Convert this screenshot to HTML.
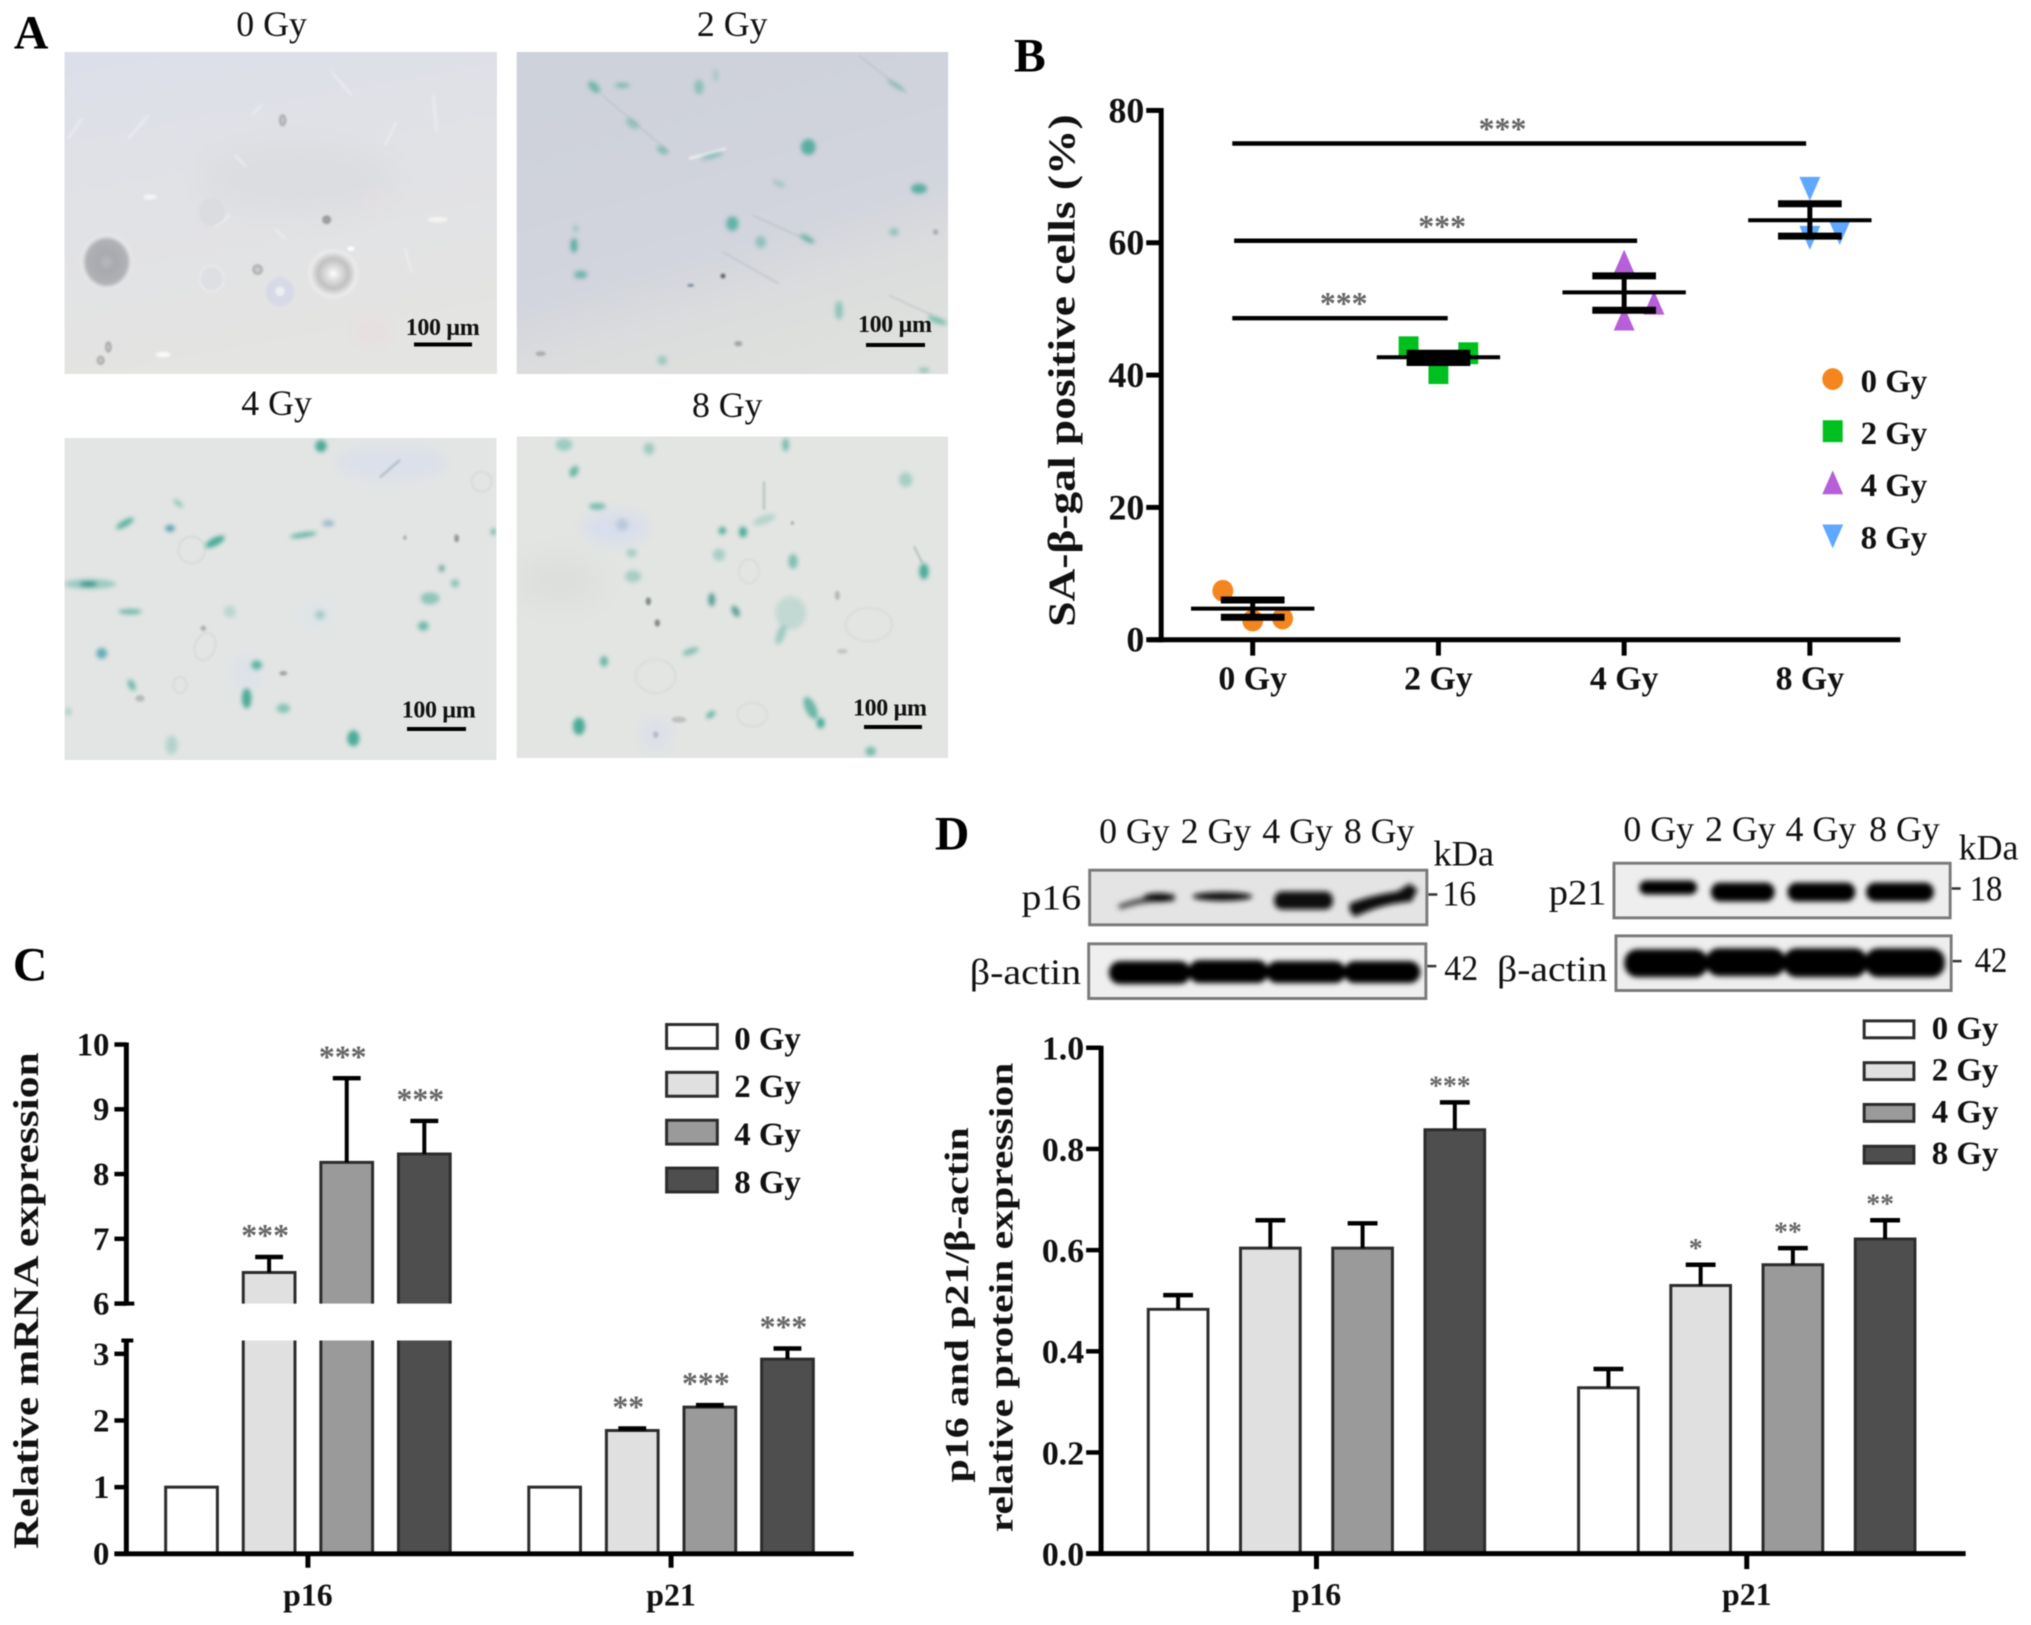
<!DOCTYPE html>
<html lang="en">
<head>
<meta charset="utf-8">
<title>Senescence figure panels A-D</title>
<style>
html,body{margin:0;padding:0;background:#fff;width:2031px;height:1625px;overflow:hidden}
svg#figure{display:block;filter:blur(.65px)}
text{font-family:"Liberation Serif","DejaVu Serif",serif;fill:#111}
.b{font-weight:700}
.letter{font-weight:700;font-size:48px;fill:#000}
.photo-title{font-size:36px}
.scale{font-weight:700;font-size:24px}
.blot{font-size:36px}
</style>
</head>
<body>
<svg id="figure" xmlns="http://www.w3.org/2000/svg" width="2031" height="1625" viewBox="0 0 2031 1625">
<defs>
<filter id="soft" x="-100%" y="-100%" width="300%" height="300%"><feGaussianBlur stdDeviation="6.5"/></filter>
<filter id="soft1" x="-60%" y="-60%" width="220%" height="220%"><feGaussianBlur stdDeviation="3"/></filter>
<filter id="soft3" x="-30%" y="-60%" width="160%" height="220%"><feGaussianBlur stdDeviation="2.6"/></filter>
<filter id="mid" x="-100%" y="-100%" width="300%" height="300%"><feGaussianBlur stdDeviation="20"/></filter>
<filter id="wide" x="-100%" y="-100%" width="300%" height="300%"><feGaussianBlur stdDeviation="45"/></filter>
<linearGradient id="bg0" x1="0" y1="0" x2=".25" y2="1"><stop offset="0" stop-color="#dcdfea"/><stop offset=".45" stop-color="#e1e2e6"/><stop offset="1" stop-color="#e4e4e2"/></linearGradient>
<linearGradient id="bg2" x1=".3" y1="0" x2=".7" y2="1"><stop offset="0" stop-color="#ced2da"/><stop offset=".55" stop-color="#d2d4de"/><stop offset=".8" stop-color="#dcdedd"/><stop offset="1" stop-color="#dfe1de"/></linearGradient>
<radialGradient id="darkring"><stop offset="0" stop-color="#b8b9c0"/><stop offset=".3" stop-color="#a8a9ae"/><stop offset=".72" stop-color="#b0b1b5"/><stop offset=".88" stop-color="#e8e8ea"/><stop offset="1" stop-color="#e1e2e4" stop-opacity="0"/></radialGradient>
<radialGradient id="whitering"><stop offset="0" stop-color="#ffffff"/><stop offset=".2" stop-color="#e4e4e4"/><stop offset=".55" stop-color="#c0c0c0"/><stop offset=".86" stop-color="#eeeeee"/><stop offset="1" stop-color="#e1e1e1" stop-opacity="0"/></radialGradient>
</defs>

<rect width="2031" height="1625" fill="#fff"/>

<!-- PANEL A micrographs -->
<svg x="64.5" y="52" width="432.5" height="322">
<rect width="433" height="322" fill="url(#bg0)"/>
<g transform="translate(.5,0) scale(.3333)">
<ellipse cx="700" cy="380" rx="300" ry="110" fill="#dcdde0" filter="url(#wide)"/>
<ellipse cx="930" cy="440" rx="30" ry="25" fill="#e8dede" opacity=".6" filter="url(#mid)"/>
<ellipse cx="920" cy="840" rx="60" ry="40" fill="#e8dede" opacity=".6" filter="url(#mid)"/>
<ellipse cx="125" cy="630" rx="84" ry="90" fill="url(#darkring)" filter="url(#soft1)"/>
<ellipse cx="805" cy="665" rx="82" ry="80" fill="url(#whitering)" filter="url(#soft1)"/>
<g filter="url(#soft1)" fill="none" stroke="#f0f1f3" stroke-width="6" opacity=".75">
<path d="M800 60L860 130M190 260L250 190M10 260L50 200M510 310L545 345M960 280L995 210M450 525L495 490M1020 590L1040 660M1105 130L1115 240M560 190L590 160M630 530L660 560"/>
</g>
<g filter="url(#soft1)" fill="#c8c9cc" stroke="#8e8e90" stroke-width="4">
<ellipse cx="653" cy="205" rx="8" ry="15"/><ellipse cx="785" cy="503" rx="11" ry="11" fill="#a0a0a0"/><ellipse cx="578" cy="653" rx="13" ry="13"/><ellipse cx="130" cy="885" rx="7" ry="14"/><ellipse cx="107" cy="925" rx="9" ry="11"/>
</g>
<g filter="url(#soft1)">
<ellipse cx="440" cy="480" rx="40" ry="42" fill="#dadbde" opacity=".8"/>
<ellipse cx="440" cy="680" rx="36" ry="38" fill="#dedfe3" stroke="#eeeef2" stroke-width="4"/>
<ellipse cx="645" cy="720" rx="42" ry="44" fill="#d8d9e6"/><ellipse cx="645" cy="718" rx="14" ry="14" fill="#eeeef4"/>
<ellipse cx="858" cy="590" rx="11" ry="7" fill="#fff"/><ellipse cx="295" cy="908" rx="22" ry="8" fill="#fafafa"/><ellipse cx="255" cy="435" rx="20" ry="8" fill="#f4f4f4"/><ellipse cx="1118" cy="503" rx="30" ry="8" fill="#f4f4f2"/>
</g>
</g>
</svg>

<svg x="516.6" y="52" width="431.5" height="322">
<rect width="432" height="322" fill="url(#bg2)"/>
<g transform="translate(2.4,0) scale(.3333)">
<g filter="url(#soft1)" fill="none" stroke="#bcc0ca" stroke-width="4"><path d="M1020 10L1165 125M610 600L780 695M250 130L450 300M700 490L880 570M1110 730L1240 790"/></g>
<path d="M510 320L620 290" stroke="#f0f2f2" stroke-width="7" filter="url(#soft1)"/>
<g filter="url(#soft)" fill="#3fa594" opacity=".82">
<ellipse cx="225" cy="105" rx="22" ry="12" transform="rotate(45 225 105)" opacity=".8"/><ellipse cx="310" cy="100" rx="22" ry="7" opacity=".75"/><ellipse cx="540" cy="105" rx="14" ry="22" opacity=".55"/><ellipse cx="590" cy="70" rx="7" ry="20" opacity=".35"/>
<ellipse cx="340" cy="215" rx="22" ry="12" transform="rotate(35 340 215)" opacity=".5"/><ellipse cx="430" cy="295" rx="18" ry="9" transform="rotate(30 430 295)" opacity=".7"/><ellipse cx="580" cy="312" rx="34" ry="7" transform="rotate(-15 580 312)" opacity=".6"/>
<ellipse cx="868" cy="285" rx="22" ry="24"/><ellipse cx="780" cy="395" rx="20" ry="7" transform="rotate(25 780 395)" opacity=".45"/><ellipse cx="1200" cy="410" rx="24" ry="15"/>
<ellipse cx="165" cy="580" rx="10" ry="22"/><ellipse cx="170" cy="530" rx="6" ry="10" opacity=".6"/><ellipse cx="185" cy="668" rx="20" ry="12" opacity=".8"/><ellipse cx="640" cy="515" rx="18" ry="22" opacity=".9"/><ellipse cx="725" cy="570" rx="16" ry="18" opacity=".55"/>
<ellipse cx="865" cy="560" rx="25" ry="9" transform="rotate(30 865 560)" opacity=".75"/><ellipse cx="1125" cy="540" rx="14" ry="12" opacity=".55"/><ellipse cx="960" cy="775" rx="12" ry="28" opacity=".6"/><ellipse cx="1255" cy="805" rx="30" ry="9" transform="rotate(20 1255 805)" opacity=".75"/>
<ellipse cx="430" cy="925" rx="14" ry="14" opacity=".5"/><ellipse cx="1215" cy="955" rx="16" ry="8" opacity=".6"/><ellipse cx="1130" cy="100" rx="30" ry="7" transform="rotate(30 1130 100)" opacity=".55"/>
</g>
<g filter="url(#soft1)" fill="#777d80">
<ellipse cx="612" cy="672" rx="7" ry="7" fill="#555"/><ellipse cx="515" cy="700" rx="10" ry="4" fill="#6a7a88"/><ellipse cx="1250" cy="540" rx="8" ry="8" opacity=".5"/><ellipse cx="65" cy="905" rx="15" ry="7" opacity=".5"/><ellipse cx="658" cy="875" rx="12" ry="8" opacity=".6"/>
</g>
</g>
</svg>

<svg x="64.5" y="438" width="432" height="322">
<rect width="432" height="322" fill="#e3e5e4"/>
<g transform="translate(.5,2) scale(.3333)">
<ellipse cx="980" cy="70" rx="170" ry="50" fill="#dbe0ea" filter="url(#mid)"/>
<ellipse cx="545" cy="700" rx="45" ry="55" fill="#dde2e9" filter="url(#mid)"/>
<ellipse cx="755" cy="525" rx="38" ry="26" fill="#d9e3eb" filter="url(#mid)"/>
<g filter="url(#soft1)" fill="none" stroke="#d0d4d4" stroke-width="4"><ellipse cx="380" cy="330" rx="40" ry="40"/><ellipse cx="420" cy="620" rx="30" ry="42" transform="rotate(20 420 620)"/><ellipse cx="1250" cy="125" rx="30" ry="30"/><ellipse cx="345" cy="735" rx="20" ry="24"/></g>
<path d="M945 112L1005 60" stroke="#9fb0b2" stroke-width="5" filter="url(#soft1)"/>
<g filter="url(#soft)" fill="#2fa08b" opacity=".85">
<ellipse cx="768" cy="18" rx="17" ry="18"/><ellipse cx="180" cy="250" rx="30" ry="10" transform="rotate(-30 180 250)" opacity=".85"/><ellipse cx="315" cy="265" rx="14" ry="10" fill="#3a8fa5"/><ellipse cx="340" cy="190" rx="18" ry="6" transform="rotate(40 340 190)" opacity=".6"/><ellipse cx="450" cy="305" rx="32" ry="12" transform="rotate(-28 450 305)"/>
<ellipse cx="715" cy="285" rx="40" ry="7" transform="rotate(-8 715 285)" opacity=".85"/><ellipse cx="790" cy="250" rx="18" ry="10" fill="#6e9dbd" opacity=".7"/><ellipse cx="75" cy="432" rx="78" ry="15" opacity=".45"/><ellipse cx="70" cy="432" rx="26" ry="8" fill="#1f8a7a"/><ellipse cx="195" cy="515" rx="35" ry="8" opacity=".75"/>
<ellipse cx="765" cy="525" rx="14" ry="14" opacity=".4"/><ellipse cx="495" cy="515" rx="18" ry="18" opacity=".25"/><ellipse cx="110" cy="640" rx="16" ry="16" fill="#2f9aa5" opacity=".85"/><ellipse cx="1095" cy="475" rx="28" ry="18" opacity=".55"/><ellipse cx="1075" cy="558" rx="16" ry="14" opacity=".75"/>
<ellipse cx="1130" cy="385" rx="8" ry="10" fill="#508c86"/><ellipse cx="1170" cy="430" rx="12" ry="12" opacity=".6"/><ellipse cx="1285" cy="275" rx="6" ry="10"/><ellipse cx="575" cy="675" rx="16" ry="14" opacity=".85"/><ellipse cx="200" cy="735" rx="10" ry="18" transform="rotate(-25 200 735)" opacity=".75"/>
<ellipse cx="545" cy="775" rx="14" ry="30"/><ellipse cx="655" cy="805" rx="20" ry="14" opacity=".6"/><ellipse cx="10" cy="815" rx="6" ry="12" opacity=".5"/><ellipse cx="320" cy="915" rx="18" ry="28" opacity=".3"/><ellipse cx="865" cy="895" rx="18" ry="24"/>
</g>
<g filter="url(#soft1)" fill="#6f7a78" opacity=".75"><ellipse cx="1175" cy="295" rx="7" ry="12"/><ellipse cx="655" cy="700" rx="12" ry="7" opacity=".8"/><ellipse cx="225" cy="775" rx="14" ry="10" opacity=".5"/><ellipse cx="415" cy="565" rx="8" ry="8" opacity=".7"/><ellipse cx="1020" cy="293" rx="4" ry="6"/></g>
</g>
</svg>

<svg x="516.6" y="436.5" width="431.5" height="321.5">
<rect width="432" height="322" fill="#e3e5e3"/>
<g transform="translate(2.4,1.5) scale(.3333)">
<ellipse cx="290" cy="270" rx="100" ry="50" fill="#d8deec" filter="url(#mid)"/>
<ellipse cx="410" cy="890" rx="42" ry="48" fill="#dbdfea" filter="url(#mid)"/>
<ellipse cx="120" cy="430" rx="130" ry="70" fill="#dcdedc" filter="url(#wide)"/>
<g filter="url(#soft1)" fill="none" stroke="#d3d7d6" stroke-width="4"><ellipse cx="1050" cy="560" rx="70" ry="50"/><ellipse cx="410" cy="715" rx="60" ry="50"/><ellipse cx="700" cy="830" rx="45" ry="36"/><ellipse cx="690" cy="400" rx="30" ry="36"/></g>
<path d="M735 130V215M1185 325L1210 375" stroke="#95aca8" stroke-width="4" fill="none" filter="url(#soft1)"/>
<g filter="url(#soft)" fill="#2fa08b" opacity=".85">
<ellipse cx="135" cy="20" rx="25" ry="18" opacity=".45"/><ellipse cx="165" cy="100" rx="12" ry="18" transform="rotate(30 165 100)" opacity=".8"/><ellipse cx="390" cy="32" rx="16" ry="18" opacity=".45"/><ellipse cx="800" cy="20" rx="10" ry="20" opacity=".7"/><ellipse cx="235" cy="205" rx="25" ry="10" opacity=".7"/>
<ellipse cx="310" cy="260" rx="18" ry="18" fill="#7ea0b8" opacity=".4"/><ellipse cx="338" cy="345" rx="16" ry="12" opacity=".4"/><ellipse cx="342" cy="415" rx="24" ry="18" opacity=".4"/><ellipse cx="610" cy="278" rx="11" ry="11"/><ellipse cx="672" cy="282" rx="12" ry="16"/>
<ellipse cx="735" cy="245" rx="35" ry="12" transform="rotate(-20 735 245)" opacity=".3"/><ellipse cx="600" cy="350" rx="18" ry="18" opacity=".4"/><ellipse cx="822" cy="370" rx="14" ry="22" opacity=".65"/><ellipse cx="1215" cy="400" rx="14" ry="24"/><ellipse cx="1160" cy="125" rx="20" ry="22" opacity=".4"/>
<ellipse cx="578" cy="485" rx="10" ry="20" fill="#3c8f84"/><ellipse cx="650" cy="520" rx="10" ry="18" transform="rotate(-30 650 520)" fill="#3c8f84"/><ellipse cx="815" cy="525" rx="46" ry="50" opacity=".2"/><ellipse cx="785" cy="590" rx="12" ry="30" transform="rotate(20 785 590)" opacity=".45"/><ellipse cx="515" cy="640" rx="25" ry="9" transform="rotate(-20 515 640)" opacity=".65"/>
<ellipse cx="255" cy="670" rx="12" ry="16" opacity=".8"/><ellipse cx="180" cy="865" rx="18" ry="26"/><ellipse cx="575" cy="830" rx="16" ry="8" transform="rotate(-35 575 830)" opacity=".85"/><ellipse cx="875" cy="810" rx="16" ry="36" transform="rotate(-25 875 810)" opacity=".8"/><ellipse cx="905" cy="855" rx="12" ry="16"/><ellipse cx="1055" cy="940" rx="16" ry="14" opacity=".7"/>
</g>
<g filter="url(#soft1)" fill="#55625f" opacity=".7"><ellipse cx="388" cy="490" rx="8" ry="12"/><ellipse cx="415" cy="555" rx="8" ry="11"/><ellipse cx="480" cy="845" rx="22" ry="9" opacity=".4"/><ellipse cx="410" cy="890" rx="8" ry="10" opacity=".4"/><ellipse cx="820" cy="255" rx="4" ry="4"/><ellipse cx="955" cy="472" rx="8" ry="14" opacity=".45"/><ellipse cx="970" cy="640" rx="16" ry="7" opacity=".35"/></g>
</g>
</svg>

<text class="scale" x="405.7" y="335" textLength="74">100 µm</text>
<rect x="414" y="342.5" width="58" height="4" fill="#000"/>
<text class="scale" x="858" y="332" textLength="74">100 µm</text>
<rect x="866" y="343" width="59" height="4" fill="#000"/>
<text class="scale" x="401.7" y="717.7" textLength="74">100 µm</text>
<rect x="407" y="727" width="59" height="4" fill="#000"/>
<text class="scale" x="853" y="715.7" textLength="74">100 µm</text>
<rect x="864" y="725" width="58" height="4" fill="#000"/>

<g transform="scale(.9949)">
<text class="letter" x="14" y="49">A</text>
<text class="photo-title" x="273" y="36" text-anchor="middle">0 Gy</text>
<text class="photo-title" x="736" y="36" text-anchor="middle">2 Gy</text>
<text class="photo-title" x="278" y="417" text-anchor="middle">4 Gy</text>
<text class="photo-title" x="731" y="419" text-anchor="middle">8 Gy</text>
</g>

<!-- PANEL B -->
<g id="panel-b" transform="translate(1000,0) scale(.9949) translate(-1000,0)">
<text class="letter" x="1014" y="72">B</text>
<text class="b" font-size="38" transform="translate(1075,630) rotate(-90)" textLength="515" lengthAdjust="spacingAndGlyphs">SA-β-gal positive cells (%)</text>
</g>

<!-- PANEL C -->
<g id="panel-c" transform="translate(0,930) scale(.9949) translate(0,-930)">
<text class="letter" x="13" y="981">C</text>
<text class="b" font-size="36" transform="translate(38,1552) rotate(-90)" textLength="499" lengthAdjust="spacingAndGlyphs">Relative mRNA expression</text>
</g>

<!-- PANEL D blots -->
<g id="panel-d-blots" transform="translate(920,800) scale(.9949) translate(-920,-800)">
<text class="letter" x="935" y="850">D</text>

<g>
<text class="blot" x="1100" y="843" textLength="71" lengthAdjust="spacingAndGlyphs">0 Gy</text>
<text class="blot" x="1182" y="843" textLength="71" lengthAdjust="spacingAndGlyphs">2 Gy</text>
<text class="blot" x="1264" y="843" textLength="71" lengthAdjust="spacingAndGlyphs">4 Gy</text>
<text class="blot" x="1346" y="843" textLength="71" lengthAdjust="spacingAndGlyphs">8 Gy</text>
<text class="blot" x="1627" y="841" textLength="71" lengthAdjust="spacingAndGlyphs">0 Gy</text>
<text class="blot" x="1709" y="841" textLength="71" lengthAdjust="spacingAndGlyphs">2 Gy</text>
<text class="blot" x="1790" y="841" textLength="71" lengthAdjust="spacingAndGlyphs">4 Gy</text>
<text class="blot" x="1874" y="841" textLength="71" lengthAdjust="spacingAndGlyphs">8 Gy</text>
<text class="blot" x="1436" y="866" textLength="61" lengthAdjust="spacingAndGlyphs">kDa</text>
<text class="blot" x="1964" y="860" textLength="60" lengthAdjust="spacingAndGlyphs">kDa</text>
<text class="blot" x="1022" y="910" textLength="60" lengthAdjust="spacingAndGlyphs">p16</text>
<text class="blot" x="1552" y="905" textLength="58" lengthAdjust="spacingAndGlyphs">p21</text>
<text class="blot" x="970" y="985" textLength="112" lengthAdjust="spacingAndGlyphs">β-actin</text>
<text class="blot" x="1500" y="982" textLength="111" lengthAdjust="spacingAndGlyphs">β-actin</text>
<text class="blot" x="1445" y="906" textLength="34" lengthAdjust="spacingAndGlyphs">16</text>
<text class="blot" x="1447" y="981" textLength="34" lengthAdjust="spacingAndGlyphs">42</text>
<text class="blot" x="1975" y="901" textLength="33" lengthAdjust="spacingAndGlyphs">18</text>
<text class="blot" x="1980" y="973" textLength="33" lengthAdjust="spacingAndGlyphs">42</text>
<path d="M1431 895h9M1430 967h9M1957 889h9M1958 962h9" stroke="#333" stroke-width="2.5"/>
</g>

<svg x="1089" y="869" width="342" height="58">
<rect width="342" height="58" fill="#e4e4e4"/>
<g transform="translate(-1089,-869)" filter="url(#soft3)" fill="#111">
<path d="M1118 906Q1140 896 1176 894L1176 902Q1145 902 1122 910Z" fill="#555"/>
<ellipse cx="1160" cy="898" rx="16" ry="4.5"/>
<ellipse cx="1224" cy="897" rx="30" ry="4.5"/>
<rect x="1276" y="892" width="59" height="18" rx="8"/>
<path d="M1352 904Q1372 896 1400 892L1412 884L1420 890L1414 902Q1385 904 1358 917Q1350 914 1352 904Z"/>
</g>
<rect x="1.5" y="1.5" width="339" height="55" fill="none" stroke="#7a7a7a" stroke-width="3"/>
</svg>
<svg x="1088" y="943" width="342" height="58">
<rect width="342" height="58" fill="#efefef"/>
<g transform="translate(-1088,-943)" filter="url(#soft3)" fill="#050505">
<rect x="1110" y="962" width="82" height="23" rx="11"/><rect x="1190" y="961" width="80" height="23" rx="11"/><rect x="1268" y="962" width="80" height="22" rx="11"/><rect x="1346" y="962" width="77" height="22" rx="11"/>
</g>
<rect x="1.5" y="1.5" width="339" height="55" fill="none" stroke="#7a7a7a" stroke-width="3"/>
</svg>
<svg x="1616" y="862" width="341" height="58">
<rect width="341" height="58" fill="#eeeeee"/>
<g transform="translate(-1616,-862)" filter="url(#soft3)" fill="#050505">
<rect x="1643" y="881" width="58" height="14" rx="7"/><rect x="1715" y="883" width="64" height="19" rx="9"/><rect x="1792" y="883" width="68" height="19" rx="9"/><rect x="1871" y="883" width="68" height="19" rx="9"/>
</g>
<rect x="1.5" y="1.5" width="338" height="55" fill="none" stroke="#7a7a7a" stroke-width="3"/>
</svg>
<svg x="1618" y="935" width="340" height="58">
<rect width="340" height="58" fill="#eeeeee"/>
<g transform="translate(-1618,-935)" filter="url(#soft3)" fill="#000">
<rect x="1628" y="950" width="84" height="28" rx="13"/><rect x="1710" y="949" width="80" height="28" rx="13"/><rect x="1788" y="949" width="84" height="29" rx="13"/><rect x="1870" y="949" width="80" height="29" rx="13"/>
</g>
<rect x="1.5" y="1.5" width="337" height="55" fill="none" stroke="#7a7a7a" stroke-width="3"/>
</svg>
</g>

<!-- PANEL D chart -->
<g id="panel-d" transform="translate(920,1000) scale(.9949) translate(-920,-1000)">
<text class="b" font-size="34" transform="translate(968,1485) rotate(-90)" textLength="357" lengthAdjust="spacingAndGlyphs">p16 and p21/β-actin</text>
<text class="b" font-size="34" transform="translate(1013,1535) rotate(-90)" textLength="472" lengthAdjust="spacingAndGlyphs">relative protein expression</text>
</g>

<script>
/* ---------- Panel B data ---------- */
const bCategories = ['0 Gy', '2 Gy', '4 Gy', '8 Gy'];
const bTicks = [0, 20, 40, 60, 80];
const bPoints = [[7.4, 2.9, 3.2], [44.2, 40.3, 43.3], [57, 50.8, 48.4], [68.3, 60.9, 61.6]];
const bSlots = [[-1, 0, 1], [-1, 0, 1], [0, 1, 0], [0, 0, 1]];
const bMeans = [4.7, 42.7, 52.5, 63.4];
const bUpper = [6, 43.3, 55, 65.9];
const bLower = [3.4, 41.9, 49.8, 61];
const bSigLevels = [48.6, 60.3, 75];
const bSigStart = [-0.11, -0.1, -0.11];
const bSigEnd = [1.05, 2.07, 2.98];
const bSigLabelAt = [0.49, 1.02, 1.345];
const bColors = ['#f5861f', '#00c01f', '#b65fd8', '#5fa8ff'];

/* ---------- Panel C data ---------- */
const cGroups = ['p16', 'p21'];
const doses = ['0 Gy', '2 Gy', '4 Gy', '8 Gy'];
const cTicksLower = [0, 1, 2, 3];
const cTicksUpper = [6, 7, 8, 9, 10];
const cValues = [[1, 6.48, 8.18, 8.31], [1, 1.85, 2.2, 2.92]];
const cErrorTops = [[1, 6.72, 9.48, 8.82], [1, 1.88, 2.23, 3.08]];
const cStars = [['', '***', '***', '***'], ['', '**', '***', '***']];

/* ---------- Panel D data ---------- */
const dGroups = ['p16', 'p21'];
const dTicks = [0, 0.2, 0.4, 0.6, 0.8, 1];
const dValues = [[0.483, 0.604, 0.604, 0.838], [0.328, 0.53, 0.571, 0.622]];
const dErrorTops = [[0.511, 0.659, 0.653, 0.892], [0.365, 0.571, 0.604, 0.659]];
const dStars = [['', '', '', '***'], ['', '*', '**', '**']];

const barFills = ['#ffffff', '#e0e0e0', '#9a9a9a', '#4e4e4e'];

/* ---------- helpers ---------- */
const NS = 'http://www.w3.org/2000/svg';
function make(parent, tag, attrs, content) {
  const el = document.createElementNS(NS, tag);
  for (const k in attrs) el.setAttribute(k, attrs[k]);
  if (content !== undefined) el.textContent = content;
  parent.appendChild(el);
  return el;
}
function line(parent, x1, y1, x2, y2, w, color) {
  return make(parent, 'line', {x1: x1, y1: y1, x2: x2, y2: y2, stroke: color || '#000', 'stroke-width': w});
}
function stars(parent, cx, cy, str, size) {
  const t = make(parent, 'text', {x: cx, y: cy + size * 0.47, 'text-anchor': 'middle', 'font-size': size, 'font-weight': 700, style: 'fill:#666'}, str);
  
  
  return t;
}

/* ---------- Panel B ---------- */
const gB = document.getElementById('panel-b');
const yB = v => 643 - v * 6.65;
const xB = i => 1254 + i * 186.67;
bTicks.forEach(t => {
  const tick = line(gB, 1147, yB(t), 1162, yB(t), 5);
  
  
  const lab = make(gB, 'text', {x: 1145, y: yB(t) + 12, 'text-anchor': 'end', 'font-size': 36, 'font-weight': 700}, String(t));
  
  
});
const yAxisB = line(gB, 1162, yB(80) - 2.5, 1162, yB(0) + 2.5, 5);


const xAxisB = line(gB, 1149, yB(0), 1905, yB(0), 5);


bCategories.forEach((c, i) => {
  const tick = line(gB, xB(i), yB(0), xB(i), yB(0) + 16, 5);
  
  
  const lab = make(gB, 'text', {x: xB(i), y: 693, 'text-anchor': 'middle', 'font-size': 34, 'font-weight': 700}, c);
  
  
});
function markerShape(parent, kind, cx, cy, color) {
  let m;
  if (kind === 0) m = make(parent, 'ellipse', {cx: cx, cy: cy, rx: 10.5, ry: 11, fill: color});
  if (kind === 1) m = make(parent, 'rect', {x: cx - 10, y: cy - 11, width: 20, height: 22, fill: color});
  if (kind === 2) m = make(parent, 'path', {d: 'M' + cx + ' ' + (cy - 13) + 'L' + (cx + 10.5) + ' ' + (cy + 11) + 'L' + (cx - 10.5) + ' ' + (cy + 11) + 'Z', fill: color});
  if (kind === 3) m = make(parent, 'path', {d: 'M' + cx + ' ' + (cy + 13) + 'L' + (cx + 10.5) + ' ' + (cy - 11) + 'L' + (cx - 10.5) + ' ' + (cy - 11) + 'Z', fill: color});
  return m;
}
bPoints.forEach((pts, i) => {
  pts.forEach((v, j) => {
    const m = markerShape(gB, i, xB(i) + bSlots[i][j] * 30, yB(v), bColors[i]);
    
    
  });
});
bMeans.forEach((v, i) => {
  const mean = line(gB, xB(i) - 62, yB(v), xB(i) + 62, yB(v), 4);
  
  
  const stem = line(gB, xB(i), yB(bUpper[i]), xB(i), yB(bLower[i]), 5);
  
  
  const capT = line(gB, xB(i) - 32, yB(bUpper[i]), xB(i) + 32, yB(bUpper[i]), 7);
  
  
  const capB = line(gB, xB(i) - 32, yB(bLower[i]), xB(i) + 32, yB(bLower[i]), 7);
  
  
});
bSigLevels.forEach((lvl, i) => {
  const bar = line(gB, xB(bSigStart[i]), yB(lvl), xB(bSigEnd[i]), yB(lvl), 4.5);
  
  
  stars(gB, xB(bSigLabelAt[i]), yB(lvl) - 19, '***', 32);
});
bCategories.forEach((c, i) => {
  const cy = 381 + i * 52.4;
  const m = markerShape(gB, i, 1837, cy, bColors[i]);
  
  
  const lab = make(gB, 'text', {x: 1865, y: cy + 13, 'font-size': 33, 'font-weight': 700}, c);
  
  
});

/* ---------- shared bar drawing ---------- */
function barPath(x, w, top, bottom, openTop, openBottom) {
  let d = '';
  if (openTop) d = 'M' + x + ' ' + top + 'V' + bottom + 'H' + (x + w) + 'V' + top;
  else if (openBottom) d = 'M' + x + ' ' + bottom + 'V' + top + 'H' + (x + w) + 'V' + bottom;
  else d = 'M' + x + ' ' + bottom + 'V' + top + 'H' + (x + w) + 'V' + bottom + 'Z';
  return d;
}
function bar(parent, x, w, top, bottom, fill, openTop, openBottom) {
  const r = make(parent, 'rect', {x: x, y: top, width: w, height: bottom - top, fill: fill});
  
  
  const o = make(parent, 'path', {d: barPath(x, w, top, bottom, openTop, openBottom), fill: 'none', stroke: '#2c2c2c', 'stroke-width': 3});
  
  
}
function errorBar(parent, cx, yTop, yBase, capHalf) {
  const s = line(parent, cx, yTop, cx, yBase, 4);
  
  
  const c = line(parent, cx - capHalf, yTop, cx + capHalf, yTop, 4.5);
  
  
}

/* ---------- Panel C ---------- */
const gC = document.getElementById('panel-c');
const C_BREAK_LOW = 3.2;
const C_BREAK_HIGH = 6;
const yC = v => v <= C_BREAK_LOW ? 1557 - v * 67 : 1305.5 - (v - C_BREAK_HIGH) * 65.1;
const groupXC = g => 309.5 + g * 365;
const barXC = (g, k) => groupXC(g) + (k - 1.5) * 78 - 26;
cValues.forEach((vals, g) => {
  vals.forEach((v, k) => {
    const x = barXC(g, k);
    if (v > C_BREAK_HIGH) {
      bar(gC, x, 52, yC(C_BREAK_LOW), yC(0), barFills[k], true, false);
      bar(gC, x, 52, yC(v), yC(C_BREAK_HIGH), barFills[k], false, true);
    } else {
      bar(gC, x, 52, yC(v), yC(0), barFills[k], false, false);
    }
    if (cErrorTops[g][k] > v) errorBar(gC, x + 26, yC(cErrorTops[g][k]), yC(v), 14);
    if (cStars[g][k]) stars(gC, x + 22, yC(cErrorTops[g][k]) - 26, cStars[g][k], 32);
  });
});
cTicksLower.concat(cTicksUpper).forEach(t => {
  const tick = line(gC, 115, yC(t), 127, yC(t), 4.5);
  
  
  const lab = make(gC, 'text', {x: 110, y: yC(t) + 11, 'text-anchor': 'end', 'font-size': 33, 'font-weight': 700}, String(t));
  
  
});
const yAxisCUp = line(gC, 127, yC(10) - 2, 127, yC(C_BREAK_HIGH) + 2, 5);


const yAxisCLow = line(gC, 127, yC(C_BREAK_LOW) - 2, 127, yC(0) + 2, 5);


const breakCapA = line(gC, 122, yC(C_BREAK_LOW), 134, yC(C_BREAK_LOW), 4);


const breakCapB = line(gC, 127, yC(C_BREAK_HIGH), 135, yC(C_BREAK_HIGH), 4);


const xAxisC = line(gC, 115, yC(0), 858, yC(0), 5);


cGroups.forEach((c, g) => {
  const tick = line(gC, groupXC(g), yC(0), groupXC(g), 1571, 5);
  
  
  const lab = make(gC, 'text', {x: groupXC(g), y: 1609, 'text-anchor': 'middle', 'font-size': 32, 'font-weight': 700}, c);
  
  
});
doses.forEach((d, i) => {
  const y = 1025 + i * 48.1;
  const sw = make(gC, 'rect', {x: 670, y: y, width: 51, height: 24, fill: barFills[i], stroke: '#2c2c2c', 'stroke-width': 3});
  
  
  const lab = make(gC, 'text', {x: 738, y: y + 25, 'font-size': 33, 'font-weight': 700}, d);
  
  
});

/* ---------- Panel D ---------- */
const gD = document.getElementById('panel-d');
const yD = v => 1556.5 - v * 508.5;
const groupXD = g => 1318.5 + g * 432.5;
const barXD = (g, k) => groupXD(g) + (k - 1.5) * 92.7 - 30;
dValues.forEach((vals, g) => {
  vals.forEach((v, k) => {
    const x = barXD(g, k);
    bar(gD, x, 60, yD(v), yD(0), barFills[k], false, false);
    errorBar(gD, x + 30, yD(dErrorTops[g][k]), yD(v), 15);
    if (dStars[g][k]) stars(gD, x + 25, yD(dErrorTops[g][k]) - 21, dStars[g][k], 28);
  });
});
dTicks.forEach(t => {
  const tick = line(gD, 1087, yD(t), 1102, yD(t), 4.5);
  
  
  const lab = make(gD, 'text', {x: 1085, y: yD(t) + 12, 'text-anchor': 'end', 'font-size': 34, 'font-weight': 700}, t.toFixed(1));
  
  
});
const yAxisD = line(gD, 1102, yD(1) - 2, 1102, yD(0) + 2, 5);


const xAxisD = line(gD, 1087, yD(0), 1971, yD(0), 5);


dGroups.forEach((c, g) => {
  const tick = line(gD, groupXD(g), yD(0), groupXD(g), 1572, 5);
  
  
  const lab = make(gD, 'text', {x: groupXD(g), y: 1608, 'text-anchor': 'middle', 'font-size': 32, 'font-weight': 700}, c);
  
  
});
doses.forEach((d, i) => {
  const y = 1021 + i * 42;
  const sw = make(gD, 'rect', {x: 1869, y: y, width: 50, height: 17, fill: barFills[i], stroke: '#2c2c2c', 'stroke-width': 3});
  
  
  const lab = make(gD, 'text', {x: 1937, y: y + 18, 'font-size': 33, 'font-weight': 700}, d);
  
  
});
</script>
</svg>
</body>
</html>
